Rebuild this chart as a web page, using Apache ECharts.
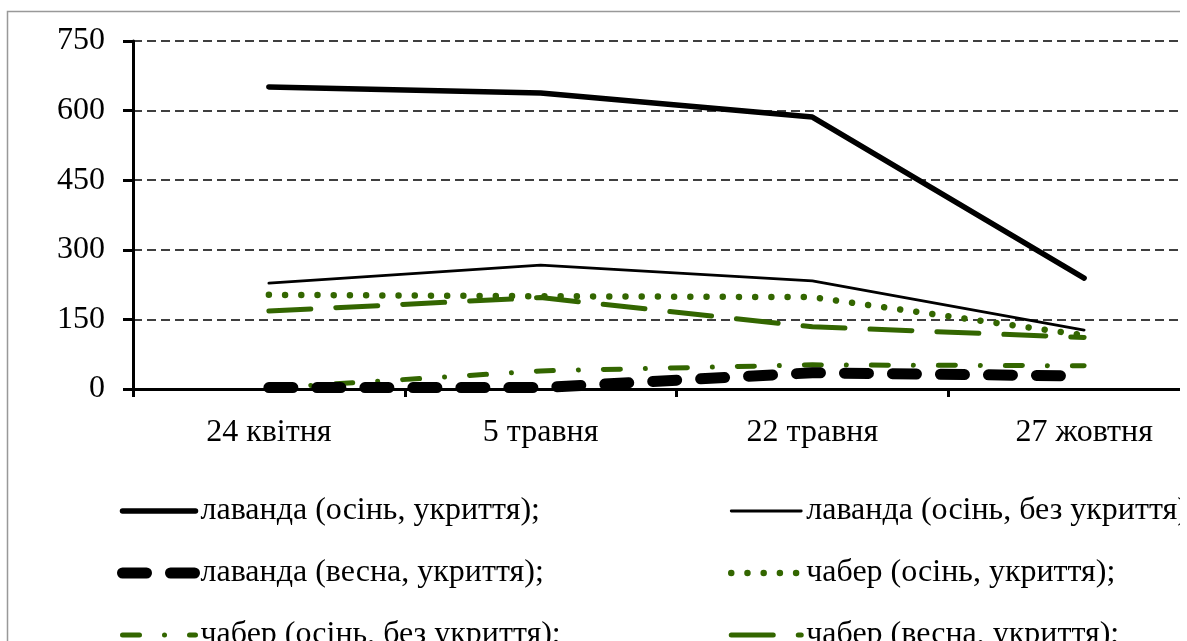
<!DOCTYPE html>
<html><head><meta charset="utf-8">
<script src="https://cdn.jsdelivr.net/npm/echarts@6/dist/echarts.min.js"></script>
<style>html,body{margin:0;padding:0;background:#fff}#c{width:1187px;height:641px}</style>
</head><body><div id="c"></div>
<script>
const categories = ['24 квітня', '5 травня', '22 травня', '27 жовтня'];
const yTicks = [0, 150, 300, 450, 600, 750];
const lavOsinUkr = [651, 638, 586, 239];
const lavOsinBez = [228, 267, 233, 127];
const lavVesnaUkr = [3, 3, 35, 28];
const chabOsinUkr = [203, 200, 198, 116];
const chabOsinBez = [2, 39, 52, 50];
const chabVesnaUkr = [168, 197, 134, 111];
const names = ['лаванда (осінь, укриття);', 'лаванда (осінь, без укриття);', 'лаванда (весна, укриття);', 'чабер (осінь, укриття);', 'чабер (осінь, без укриття);', 'чабер (весна, укриття);'];

const GREEN = '#336600';
const FONT = '"Liberation Serif", "DejaVu Serif", serif';
const styles = [
  {color: '#000', width: 5.5, type: 'solid'},
  {color: '#000', width: 2.8, type: 'solid'},
  {color: '#000', width: 11, type: [24, 24]},
  {color: GREEN, width: 6.5, type: [0.01, 16.2]},
  {color: GREEN, width: 5, type: [17, 25, 0.01, 25]},
  {color: GREEN, width: 5, type: [42, 25]}
];
const dataArr = [lavOsinUkr, lavOsinBez, lavVesnaUkr, chabOsinUkr, chabOsinBez, chabVesnaUkr];
const order = [0, 1, 2, 5, 4, 3];
const series = order.map(i => ({
  name: names[i], type: 'line', data: dataArr[i], symbol: 'none', silent: true,
  lineStyle: {color: styles[i].color, width: styles[i].width, type: styles[i].type, cap: 'round', join: 'round'},
  itemStyle: {color: styles[i].color},
  z: 10 - i
}));
function legendItem(i) {
  return {name: names[i],
    lineStyle: {color: styles[i].color, width: styles[i].width, type: styles[i].type, cap: 'round'},
    itemStyle: {color: 'rgba(0,0,0,0)', borderWidth: 0, opacity: 0}};
}
const legendBase = {orient: 'vertical', padding: 0, itemHeight: 28, itemGap: 30, height: 220, top: 495,
  textStyle: {color: '#000', fontFamily: FONT, fontSize: 32}};
const chart = echarts.init(document.getElementById('c'), null, {renderer: 'canvas'});
chart.setOption({
  animation: false,
  grid: {left: 133, top: 41, width: 1087, height: 348, containLabel: false, outerBoundsMode: 'none'},
  xAxis: {
    type: 'category', data: categories, boundaryGap: true,
    axisLine: {lineStyle: {color: '#000', width: 3}},
    axisTick: {show: true, length: 8, lineStyle: {color: '#000', width: 3}},
    axisLabel: {color: '#000', fontFamily: FONT, fontSize: 32, margin: 28}
  },
  yAxis: {
    type: 'value', min: 0, max: 750, interval: 150,
    axisLine: {show: true, lineStyle: {color: '#000', width: 3}},
    axisTick: {show: true, length: 10, lineStyle: {color: '#000', width: 3}},
    axisLabel: {color: '#000', fontFamily: FONT, fontSize: 32, margin: 28,
      formatter: v => yTicks.includes(v) ? String(v) : ''},
    splitLine: {show: true, lineStyle: {color: '#000', width: 1.5, type: [9, 5]}}
  },
  legend: [
    Object.assign({}, legendBase, {left: 117, itemWidth: 73, data: [0, 2, 4].map(i => legendItem(i))}),
    Object.assign({}, legendBase, {left: 728, itemWidth: 70, data: [1, 3, 5].map(i => legendItem(i))})
  ],
  graphic: [
    {type: 'rect', shape: {x: 7.5, y: 11.5, width: 1400, height: 1000}, style: {fill: 'none', stroke: '#999', lineWidth: 1.5}, z: 100, silent: true},
    {type: 'rect', shape: {x: 1180, y: 0, width: 10, height: 641}, style: {fill: '#fff'}, z: 101, silent: true}
  ],
  series: series
});
</script></body></html>
